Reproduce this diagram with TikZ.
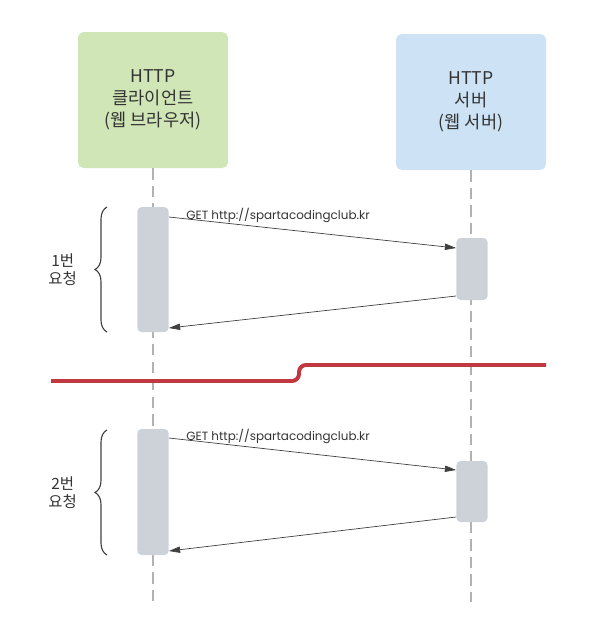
\documentclass[tikz,border=0pt]{standalone}
\usepackage{fontspec}
\setmainfont{Noto Sans CJK KR}
\newfontfamily\urlfont{Poppins}
\usetikzlibrary{arrows.meta,decorations.pathreplacing}
\definecolor{clientgreen}{RGB}{209,230,183}
\definecolor{serverblue}{RGB}{205,227,245}
\definecolor{bargray}{RGB}{205,209,216}
\definecolor{cutred}{RGB}{192,57,64}
\definecolor{textgray}{RGB}{51,51,51}
\begin{document}
\begin{tikzpicture}[
      every node/.style={text=textgray},
      header/.style={rectangle, rounded corners=4pt, minimum width=3.75cm, minimum height=3.4cm, align=center, font=\fontsize{12.5}{15.5}\selectfont},
      bar/.style={rectangle, fill=bargray, rounded corners=3pt, minimum width=0.78cm},
      lifeline/.style={gray!60, line width=0.8pt, dash pattern=on 8pt off 4.5pt},
      msg/.style={draw=black!75, line width=0.5pt, -{Triangle[length=8pt,width=4.5pt]}},
      reply/.style={msg},
      brace/.style={decorate, decoration={brace, amplitude=0.3cm}, draw=black!75, line width=0.8pt},
      bracelabel/.style={midway, left=0.62cm, align=center, font=\fontsize{11}{13}\selectfont},
      urllabel/.style={pos=0.38, above=1pt, font=\urlfont\fontsize{8.5}{10}\selectfont}
  ]
    \useasboundingbox (0,0) rectangle (15.25,-16.1);

    \node[header, fill=clientgreen] (client) at (3.825,-2.5) {HTTP\\클라이언트\\(웹 브라우저)};
    \node[header, fill=serverblue] (server) at (11.775,-2.55) {HTTP\\서버\\(웹 서버)};

    \foreach \x in {client,server} {
      \draw[lifeline] (\x.south) -- (\x.south |- 0,-15.05);
    }

    % 1번 요청
    \node[bar, minimum height=3.125cm] (c1) at (3.825,-6.74) {};
    \node[bar, minimum height=1.55cm] (s1) at (11.8,-6.725) {};
    \draw[msg] (c1.east |- 0,-5.425) -- node[urllabel] (get1) {GET http://spartacodingclub.kr} (s1.west |- 0,-6.2);
    \draw[reply] (s1.west |- 0,-7.4) -- (c1.east |- 0,-8.2);
    \draw[brace] (2.675,-8.3) -- node[bracelabel] (req1) {1번\\요청} (2.675,-5.175);

    % 구분선
    \draw[cutred, line width=2.8pt, rounded corners=5pt] (1.275,-9.525) -| (7.475,-9.125) -- (13.65,-9.125);

    % 2번 요청
    \node[bar, minimum height=3.15cm] (c2) at (3.825,-12.3) {};
    \node[bar, minimum height=1.525cm] (s2) at (11.8,-12.29) {};
    \draw[msg] (c2.east |- 0,-10.95) -- node[urllabel] (get2) {GET http://spartacodingclub.kr} (s2.west |- 0,-11.75);
    \draw[reply] (s2.west |- 0,-12.925) -- (c2.east |- 0,-13.775);
    \draw[brace] (2.675,-13.875) -- node[bracelabel] (req2) {2번\\요청} (2.675,-10.75);
  \end{tikzpicture}
\end{document}
